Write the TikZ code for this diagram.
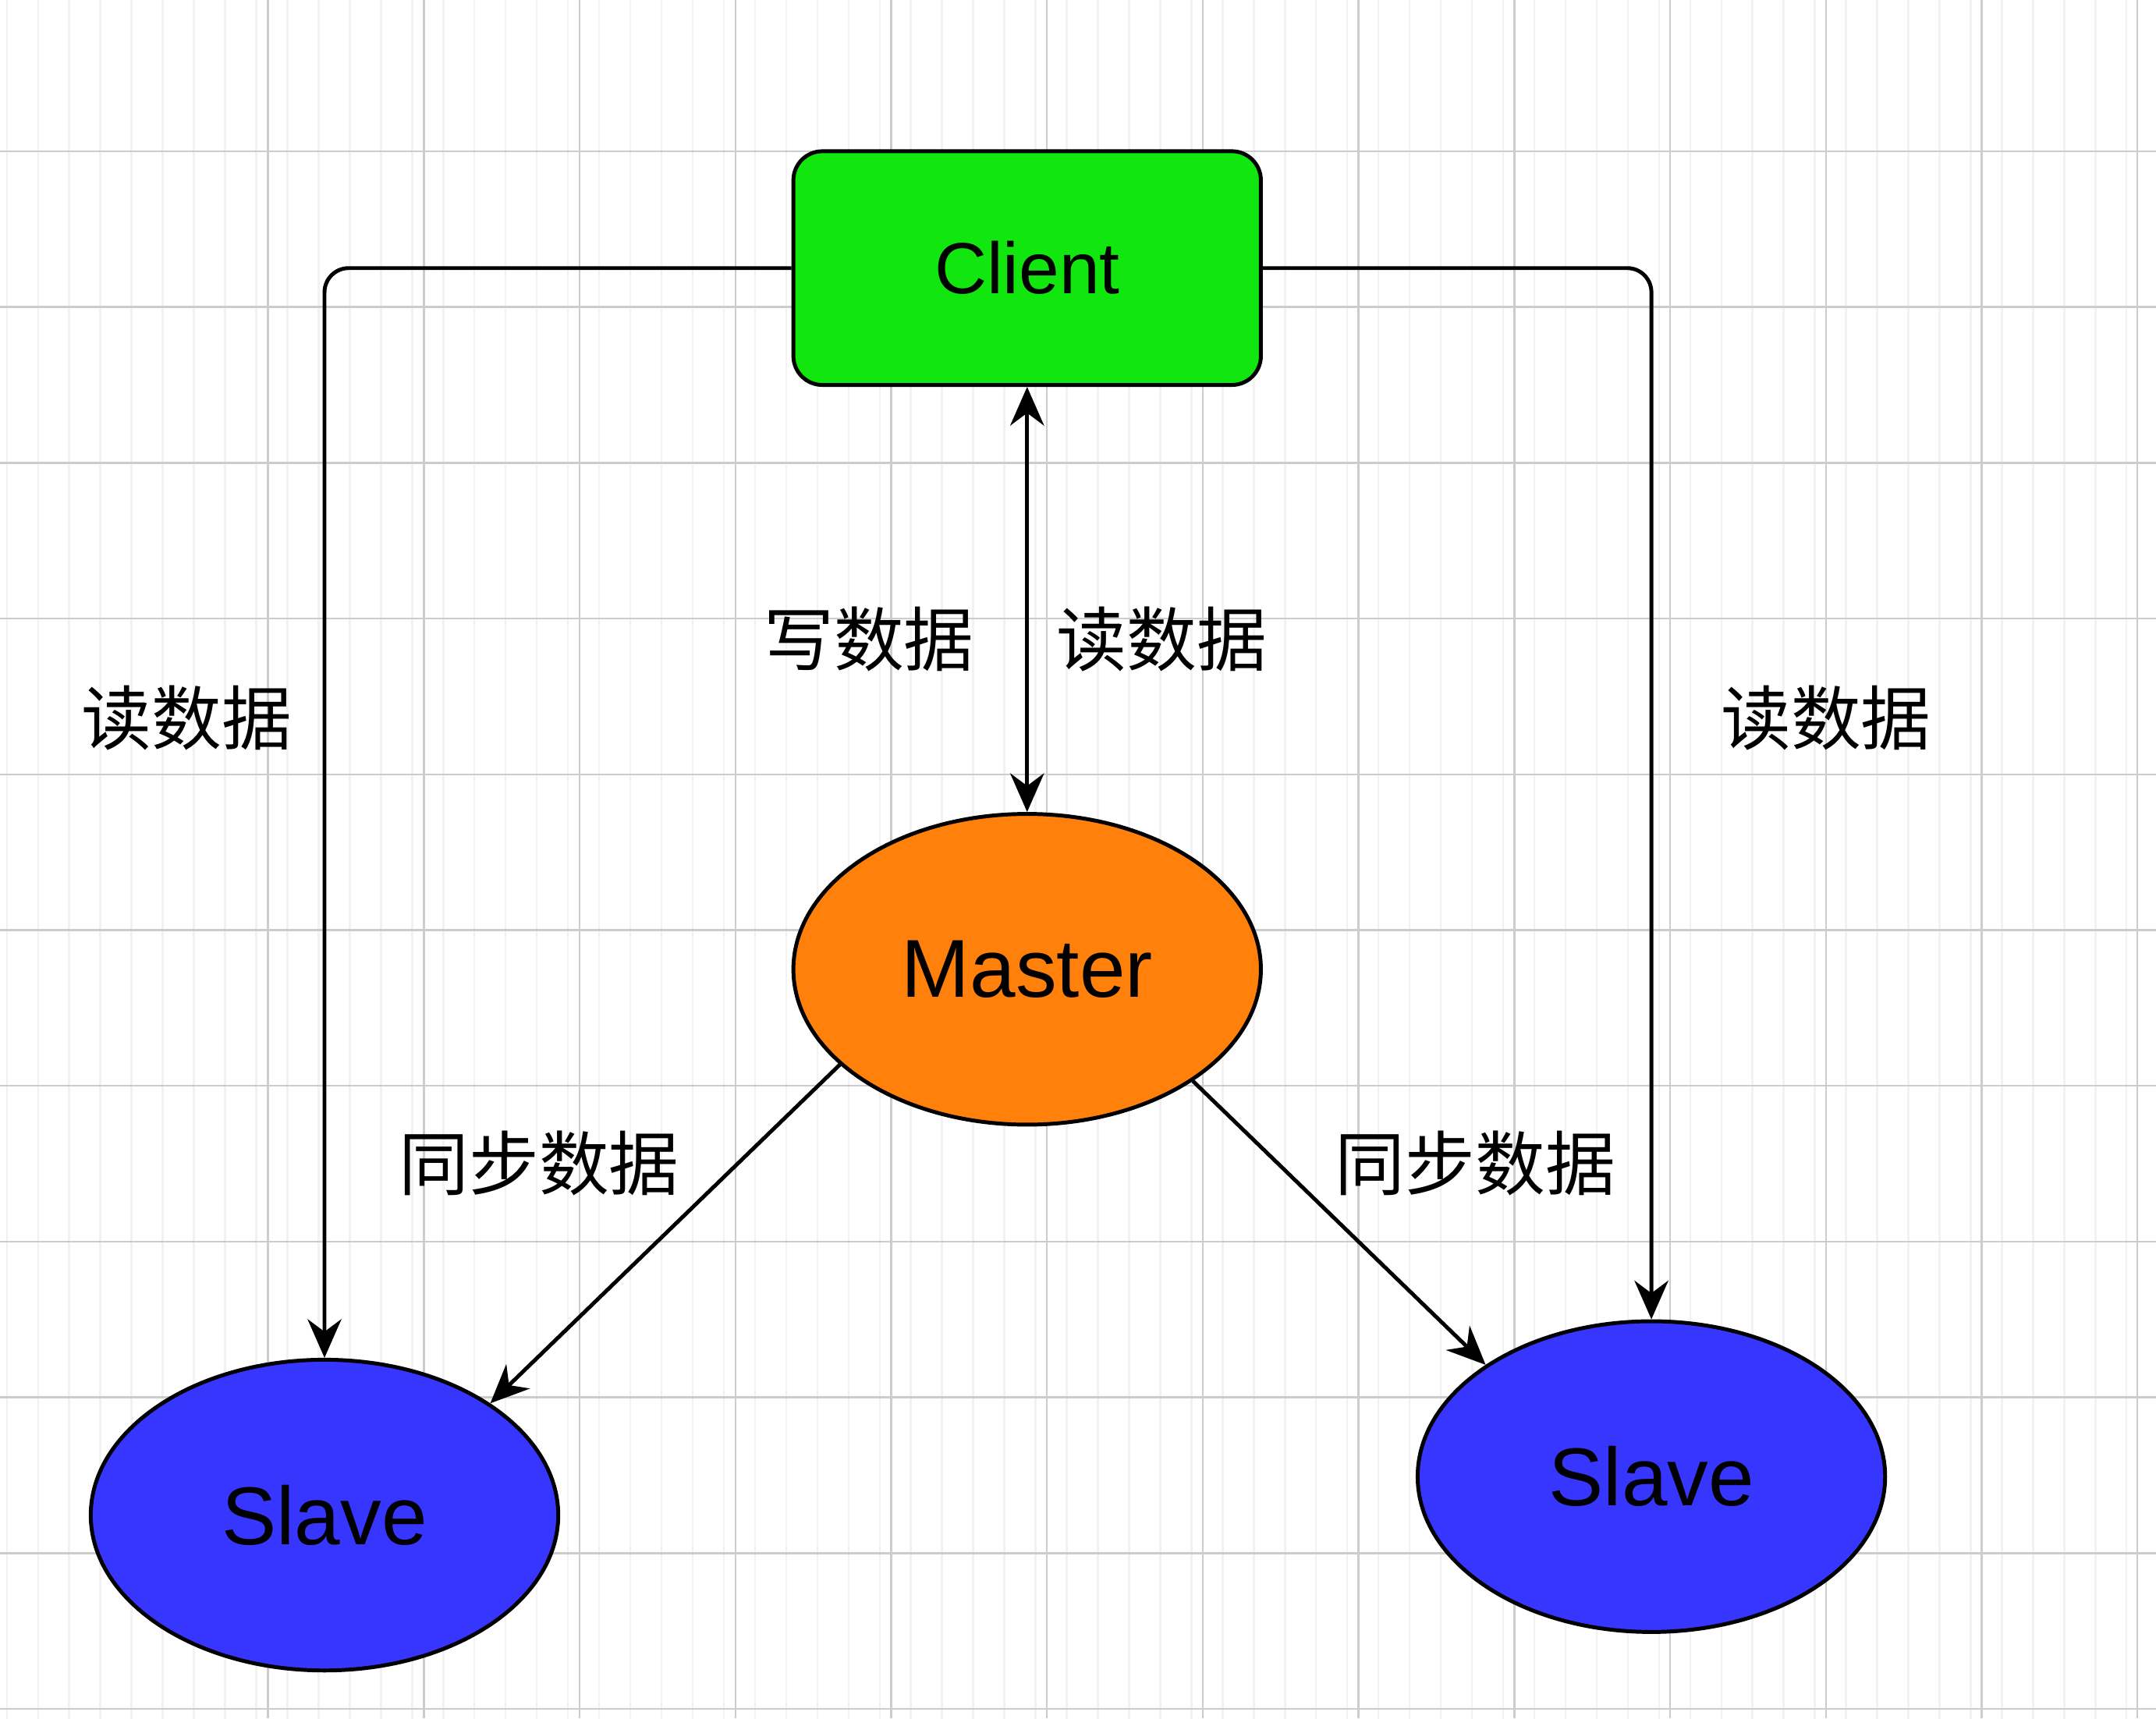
\documentclass[tikz,border=0pt]{standalone}
\usepackage{fontspec}
\setmainfont{Liberation Sans}
\newfontfamily\cjk{Noto Sans CJK SC}
\usetikzlibrary{shapes.geometric,arrows.meta}

\definecolor{clientgreen}{HTML}{11E60F}
\definecolor{masterorange}{HTML}{FF800A}
\definecolor{slaveblue}{HTML}{3636FF}

\tikzset{
  box/.style={draw,thick,rounded corners=6pt,fill=clientgreen,minimum width=3.4cm,minimum height=1.7cm,font=\fontsize{15}{18}\selectfont},
  server/.style={draw,thick,ellipse,minimum width=3.4cm,minimum height=2.26cm,font=\fontsize{17}{20}\selectfont},
  link/.style={thick,-{Stealth[length=8pt,width=7pt]}},
  lbl/.style={font=\cjk\fontsize{14.5}{17}\selectfont}
}

\begin{document}
\begin{tikzpicture}[x=1cm,y=-1cm]
  \fill[white] (0,0) rectangle (15.68,12.5);
  \useasboundingbox (0,0) rectangle (15.68,12.5);
  \draw[black!5,xstep=0.2267,ystep=0.2267,shift={(0.05,0.1)}] (-0.05,-0.1) grid (15.68,12.5);%minor
  \foreach \i in {-7,...,6}{
    \draw[black!20] (9.88+\i*1.133,0)--(9.88+\i*1.133,12.5);
  }
  \foreach \j in {0,...,10}{
    \draw[black!20] (0,1.10+\j*1.133)--(15.68,1.10+\j*1.133);
  }

  \node[box] (client) at (7.47,1.95) {Client};
  \node[server,fill=masterorange] (master) at (7.47,7.05) {Master};
  \node[server,fill=slaveblue] (slaveL) at (2.36,11.02) {Slave};
  \node[server,fill=slaveblue] (slaveR) at (12.01,10.74) {Slave};

  \draw[link,rounded corners=5pt] (client.west) -| (slaveL.north);
  \draw[link,rounded corners=5pt] (client.east) -| (slaveR.north);
  \draw[thick,{Stealth[length=8pt,width=7pt]}-{Stealth[length=8pt,width=7pt]}] (client.south) -- (master.north);
  \draw[link] (master.-153) -- (slaveL.34);
  \draw[link] (master.-34) -- (slaveR.146);

  \node[lbl] (write) at (6.32,4.65) {写数据};
  \node[lbl] (readM) at (8.45,4.65) {读数据};
  \node[lbl] (readL) at (1.36,5.22) {读数据};
  \node[lbl] (readR) at (13.28,5.22) {读数据};
  \node[lbl] (syncL) at (3.92,8.46) {同步数据};
  \node[lbl] (syncR) at (10.73,8.46) {同步数据};
\end{tikzpicture}
\end{document}
